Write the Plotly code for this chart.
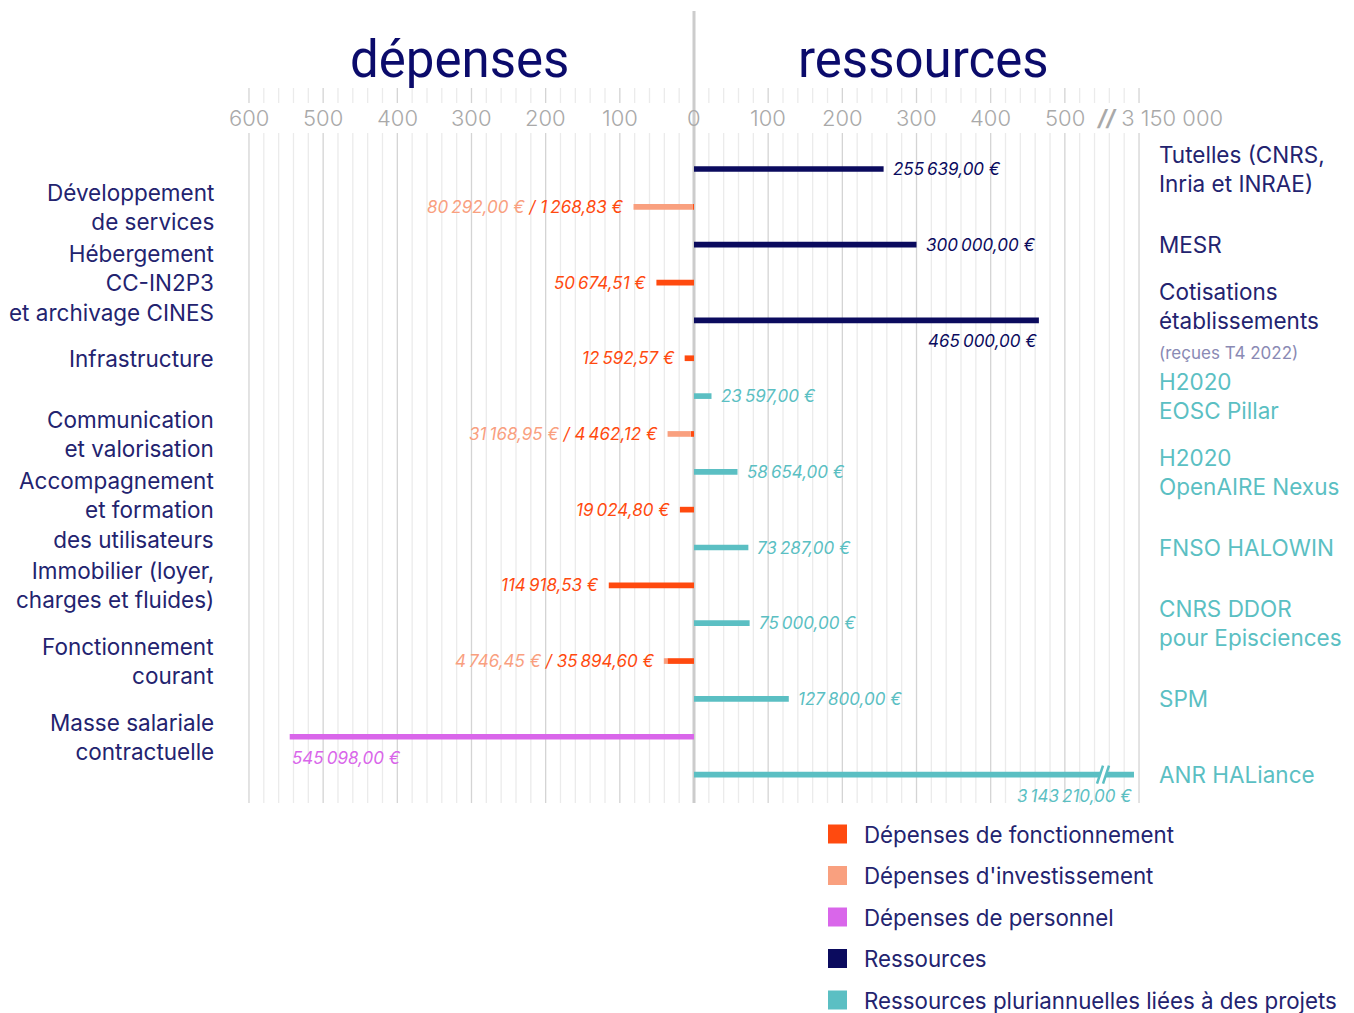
import plotly.graph_objects as go

# ---------------- data ----------------
expense_labels = [
    "Développement<br>de services",
    "Hébergement<br>CC-IN2P3<br>et archivage CINES",
    "Infrastructure",
    "Communication<br>et valorisation",
    "Accompagnement<br>et formation<br>des utilisateurs",
    "Immobilier (loyer,<br>charges et fluides)",
    "Fonctionnement<br>courant",
    "Masse salariale<br>contractuelle",
]
fonctionnement = [1268.83, 50674.51, 12592.57, 4462.12, 19024.80, 114918.53, 35894.60, 0]
investissement = [80292.00, 0, 0, 31168.95, 0, 0, 4746.45, 0]
personnel = [0, 0, 0, 0, 0, 0, 0, 545098.00]

resource_labels = [
    "Tutelles (CNRS,<br>Inria et INRAE)",
    "MESR",
    "Cotisations<br>établissements<br><span style='font-size:17px;color:#8a8ab4'>(reçues T4 2022)</span>",
    "H2020<br>EOSC Pillar",
    "H2020<br>OpenAIRE Nexus",
    "FNSO HALOWIN",
    "CNRS DDOR<br>pour Episciences",
    "SPM",
    "ANR HALiance",
]
resource_values = [255639.00, 300000.00, 465000.00, 23597.00, 58654.00, 73287.00, 75000.00, 127800.00, 3143210.00]
resource_is_project = [False, False, False, True, True, True, True, True, True]

tick_values = [-600, -500, -400, -300, -200, -100, 0, 100, 200, 300, 400, 500]
axis_break_value = 3150000
axis_break_label = "3 150 000"

legend_labels = [
    "Dépenses de fonctionnement",
    "Dépenses d'investissement",
    "Dépenses de personnel",
    "Ressources",
    "Ressources pluriannuelles liées à des projets",
]

# ---------------- style ----------------
C_FONCT = "#ff4a0f"
C_INV = "#f9a07f"
C_PERS = "#d966ea"
C_RES = "#0b0b5e"
C_PROJ = "#5bbfc3"
C_TEXT = "#23236f"
C_TITLE = "#0b0b6b"
C_TICK = "#a9a9a9"
C_GRID_MAJ = "#d4d4d4"
C_GRID_MIN = "#ebebeb"
legend_colors = [C_FONCT, C_INV, C_PERS, C_RES, C_PROJ]

FONT = "Inter"
LABEL_SIZE = 22.5
W, H = 1354, 1013
OFF = 8  # page body margin
X0_PX = 694.0 - OFF
PX_PER_K = 0.7417
ROW0_PX = 169.0 - OFF
ROW_PX = 37.85
VISIBLE_MAX = 600  # axis units (k€) where the break sits
BAR_W = 0.15


def to_axis(euros):
    k = euros / 1000.0
    if k <= VISIBLE_MAX:
        return k
    return k - (axis_break_value / 1000.0 - VISIBLE_MAX)


def fmt(v):
    s = f"{v:,.2f}"
    return s.replace(",", "\u202f").replace(".", ",") + "\u00a0€"


def py(p):
    return 1 - (p - OFF) / H


def px(p):
    return (p - OFF) / W


exp_rows = [2 * i + 1 for i in range(len(expense_labels))]
res_rows = [2 * j for j in range(len(resource_labels))]

fig = go.Figure()

# bars
fig.add_bar(y=exp_rows, x=[-v / 1000 for v in fonctionnement], orientation="h",
            marker=dict(color=C_FONCT, line_width=0), width=BAR_W, name=legend_labels[0])
fig.add_bar(y=exp_rows, x=[-v / 1000 for v in investissement], orientation="h",
            marker=dict(color=C_INV, line_width=0), width=BAR_W, name=legend_labels[1])
fig.add_bar(y=exp_rows, x=[-v / 1000 for v in personnel], orientation="h",
            marker=dict(color=C_PERS, line_width=0), width=BAR_W, name=legend_labels[2])
fig.add_bar(y=[r for r, p in zip(res_rows, resource_is_project) if not p],
            x=[to_axis(v) for v, p in zip(resource_values, resource_is_project) if not p],
            orientation="h", marker=dict(color=C_RES, line_width=0), width=BAR_W, name=legend_labels[3])
fig.add_bar(y=[r for r, p in zip(res_rows, resource_is_project) if p],
            x=[to_axis(v) for v, p in zip(resource_values, resource_is_project) if p],
            orientation="h", marker=dict(color=C_PROJ, line_width=0), width=BAR_W, name=legend_labels[4])

shapes = []
annotations = []

# gridlines
for v in range(-VISIBLE_MAX, VISIBLE_MAX + 1, 20):
    if v == 0:
        continue
    col = C_GRID_MAJ if v % 100 == 0 else C_GRID_MIN
    for (a, b) in [(88, 103), (133, 803)]:
        shapes.append(dict(type="line", xref="x", yref="paper", x0=v, x1=v,
                           y0=py(b), y1=py(a), line=dict(color=col, width=1.3), layer="below"))
shapes.append(dict(type="line", xref="x", yref="paper", x0=0, x1=0, y0=py(803), y1=py(11),
                   line=dict(color="#cccccc", width=3), layer="below"))

# tick labels
for v in tick_values:
    annotations.append(dict(x=v, y=py(118), xref="x", yref="paper", text=str(abs(v)),
                            showarrow=False, font=dict(family=FONT, size=22, color=C_TICK, weight=300),
                            xanchor="center", yanchor="middle"))
annotations.append(dict(x=VISIBLE_MAX, y=py(118), xref="x", yref="paper",
                        text=f"<b><i>//</i></b> {axis_break_label}", xshift=-45,
                        showarrow=False, font=dict(family=FONT, size=22, color=C_TICK, weight=300),
                        xanchor="left", yanchor="middle"))

# titles
annotations.append(dict(x=px(460), y=py(60), xref="paper", yref="paper", text="dépenses",
                        showarrow=False, font=dict(family="Roboto", size=51, color=C_TITLE),
                        xanchor="center", yanchor="middle"))
annotations.append(dict(x=px(923), y=py(60), xref="paper", yref="paper", text="ressources",
                        showarrow=False, font=dict(family="Roboto", size=51, color=C_TITLE),
                        xanchor="center", yanchor="middle"))

# category labels
for lab, r in zip(expense_labels, exp_rows):
    annotations.append(dict(x=px(216), y=r, xref="paper", yref="y", text=lab, align="right",
                            showarrow=False, font=dict(family=FONT, size=LABEL_SIZE, color=C_TEXT),
                            xanchor="right", yanchor="middle"))
for lab, r, p in zip(resource_labels, res_rows, resource_is_project):
    annotations.append(dict(x=px(1157), y=r, xref="paper", yref="y", text=lab, align="left",
                            showarrow=False,
                            font=dict(family=FONT, size=LABEL_SIZE, color=C_PROJ if p else C_TEXT),
                            xanchor="left", yanchor="middle"))

VAL_FONT = dict(family=FONT, size=17, style="italic")

# expense value labels
for f, inv, pe, r in zip(fonctionnement, investissement, personnel, exp_rows):
    total = (f + inv + pe) / 1000
    if pe > 0:
        annotations.append(dict(x=-total, y=r, xref="x", yref="y", text=fmt(pe), yshift=-21,
                                showarrow=False, font=dict(VAL_FONT, color=C_PERS),
                                xanchor="left", yanchor="middle"))
        continue
    if inv > 0:
        txt = f"<span style='color:{C_INV}'>{fmt(inv)}</span> / {fmt(f)}"
    else:
        txt = fmt(f)
    annotations.append(dict(x=-total, y=r, xref="x", yref="y", text=txt, xshift=-8,
                            showarrow=False, font=dict(VAL_FONT, color=C_FONCT),
                            xanchor="right", yanchor="middle"))

# resource value labels
for v, r, p in zip(resource_values, res_rows, resource_is_project):
    a = to_axis(v)
    col = C_PROJ if p else C_RES
    if a > 400:
        annotations.append(dict(x=a, y=r, xref="x", yref="y", text=fmt(v), yshift=-21,
                                showarrow=False, font=dict(VAL_FONT, color=col),
                                xanchor="right", yanchor="middle"))
    else:
        annotations.append(dict(x=a, y=r, xref="x", yref="y", text=fmt(v), xshift=7,
                                showarrow=False, font=dict(VAL_FONT, color=col),
                                xanchor="left", yanchor="middle"))

# break marks on bars exceeding the visible range
ux = 1 / PX_PER_K
uy = 1 / ROW_PX
for v, r, p in zip(resource_values, res_rows, resource_is_project):
    if v / 1000 > VISIBLE_MAX:
        col = C_PROJ if p else C_RES
        c = VISIBLE_MAX - 36 * ux
        c1, c2 = c - 3 * ux, c + 3 * ux
        s = 3 * ux
        hh = 9 * uy
        bh = 4 * uy
        shapes.append(dict(type="path", xref="x", yref="y",
                           path=f"M{c1 - s * bh / hh},{r + bh} L{c2 - s * bh / hh},{r + bh} "
                                f"L{c2 + s * bh / hh},{r - bh} L{c1 + s * bh / hh},{r - bh} Z",
                           fillcolor="white", line=dict(width=0), layer="above"))
        for cc in (c1, c2):
            shapes.append(dict(type="line", xref="x", yref="y", x0=cc - s, y0=r + hh,
                               x1=cc + s, y1=r - hh, line=dict(color=col, width=2.5), layer="above"))

# legend
for k, (lab, col) in enumerate(zip(legend_labels, legend_colors)):
    yc = 834 + 41.5 * k
    shapes.append(dict(type="rect", xref="paper", yref="paper", x0=px(828), x1=px(847),
                       y0=py(yc + 9.5), y1=py(yc - 9.5), fillcolor=col, line=dict(width=0)))
    annotations.append(dict(x=px(862), y=py(yc), xref="paper", yref="paper", text=lab,
                            showarrow=False, font=dict(family=FONT, size=22.3, color=C_TEXT),
                            xanchor="left", yanchor="middle"))

fig.update_layout(
    width=W, height=H,
    margin=dict(l=0, r=0, t=0, b=0),
    paper_bgcolor="white", plot_bgcolor="white",
    barmode="relative",
    showlegend=False,
    hovermode=False,
    shapes=shapes,
    annotations=annotations,
    xaxis=dict(range=[-X0_PX / PX_PER_K, (W - X0_PX) / PX_PER_K], visible=False, fixedrange=True),
    yaxis=dict(range=[(H - ROW0_PX) / ROW_PX, -ROW0_PX / ROW_PX], visible=False, fixedrange=True),
)

fig.write_html("out.html")
